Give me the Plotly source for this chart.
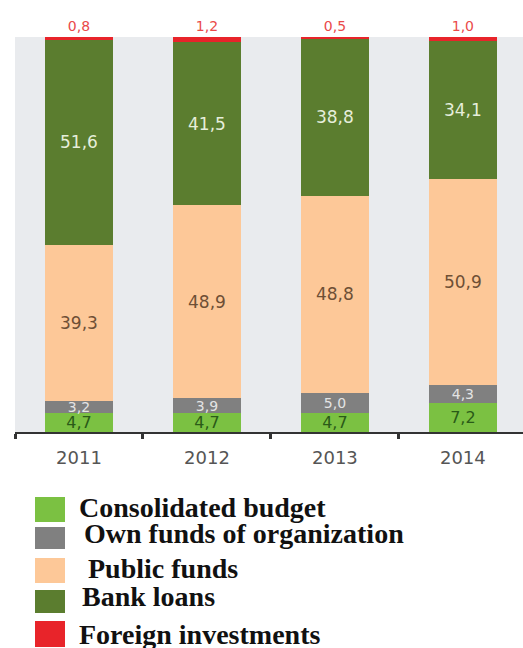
import plotly.graph_objects as go

years = ["2011", "2012", "2013", "2014"]
consolidated_budget = [4.7, 4.7, 4.7, 7.2]
own_funds = [3.2, 3.9, 5.0, 4.3]
public_funds = [39.3, 48.9, 48.8, 50.9]
bank_loans = [51.6, 41.5, 38.8, 34.1]
foreign_investments = [0.8, 1.2, 0.5, 1.0]

series_names = ["Consolidated budget", "Own funds of organization", "Public funds",
                "Bank loans", "Foreign investments"]
series_values = [consolidated_budget, own_funds, public_funds, bank_loans, foreign_investments]
colors = ["#7bc142", "#808080", "#fdc898", "#5b7d2f", "#e8242a"]
label_colors = ["#2a5a18", "#e4e4e4", "#6e4f35", "#e6eedb", "#ea4a4a"]
label_sizes = [16, 14, 17, 17, 14]

W, H = 523, 648
ML, MR, MT, MB = 15, 0, 37, 216
PW, PH = W - ML - MR, H - MT - MB


def px_x(X):
    return (X - ML) / PW


def px_y(Y):
    return (H - MB - Y) / PH


def fmt(v):
    return f"{v:.1f}".replace(".", ",")


fig = go.Figure()
for i, (name, vals) in enumerate(zip(series_names, series_values)):
    last = i == len(series_names) - 1
    fig.add_trace(go.Bar(
        x=years, y=vals, name=name,
        marker=dict(color=colors[i], line=dict(width=0)),
        text=[fmt(v) for v in vals],
        textposition="outside" if last else "inside",
        insidetextanchor="middle",
        constraintext="none",
        textfont=dict(family="DejaVu Sans", size=label_sizes[i], color=label_colors[i]),
        cliponaxis=False,
        showlegend=False,
    ))

fig.update_layout(
    width=W, height=H,
    margin=dict(l=ML, r=MR, t=MT, b=MB, pad=0),
    barmode="stack", barnorm="percent", bargap=0.465,
    plot_bgcolor="#e9ebee", paper_bgcolor="white",
    showlegend=False,
    xaxis=dict(
        type="category", range=[-0.5, 3.47], tickson="boundaries",
        ticks="outside", ticklen=5, tickwidth=3, tickcolor="#333",
        showline=True, linecolor="#333", linewidth=2, showgrid=False,
        tickfont=dict(family="DejaVu Sans", size=18, color="#555"),
        ticklabelstandoff=8,
    ),
    yaxis=dict(range=[0, 100], visible=False, showgrid=False, zeroline=False),
)

# Legend drawn as swatches + text below the chart
legend_swatches = [(497, 522), (527, 549), (558, 583), (590, 613), (621, 647)]
legend_text_y = [507, 533, 568, 596, 634]
legend_text_x = [77, 82, 86, 80, 77]
for i, name in enumerate(series_names):
    y0, y1 = legend_swatches[i]
    fig.add_shape(type="rect", xref="paper", yref="paper",
                  x0=px_x(35), x1=px_x(65), y0=px_y(y1), y1=px_y(y0),
                  fillcolor=colors[i], line=dict(width=0), layer="above")
    fig.add_annotation(xref="paper", yref="paper", x=px_x(legend_text_x[i]),
                       y=px_y(legend_text_y[i]), xanchor="left", yanchor="middle",
                       text=f"<b>{name}</b>", showarrow=False,
                       font=dict(family="Liberation Serif", size=28, color="#111"))

fig.write_html("out.html")
